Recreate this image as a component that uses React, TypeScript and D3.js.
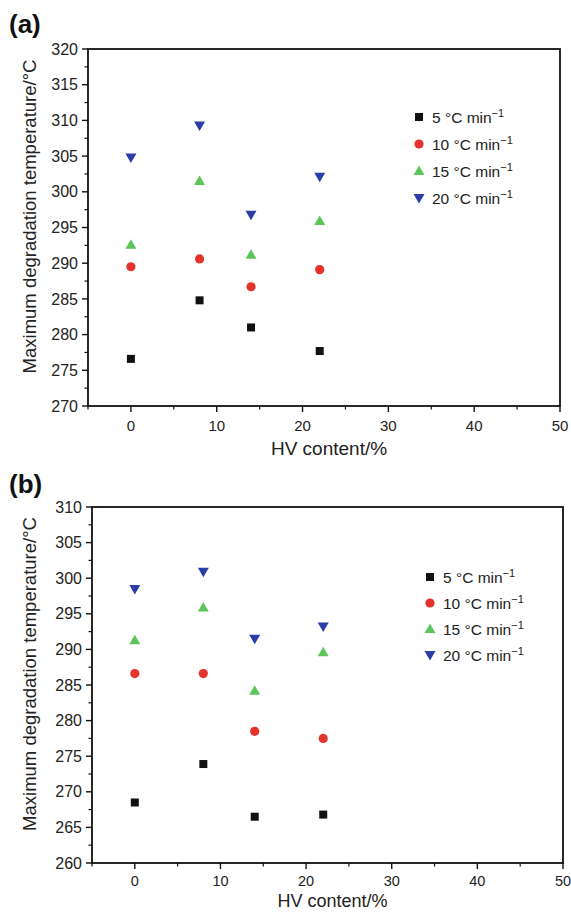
import React from "react";
import * as d3 from "d3";

// HV content (%) of each sample
const hvContent = [0, 8, 14, 22];

// Heating rates shown in each panel
const rates = ["5", "10", "15", "20"];

// Panel (a): maximum degradation temperature (°C) per heating rate
const panelA5 = [276.6, 284.8, 281.0, 277.7];
const panelA10 = [289.5, 290.6, 286.7, 289.1];
const panelA15 = [292.6, 301.5, 291.2, 295.9];
const panelA20 = [304.8, 309.3, 296.8, 302.1];

// Panel (b): maximum degradation temperature (°C) per heating rate
const panelB5 = [268.5, 273.9, 266.5, 266.8];
const panelB10 = [286.6, 286.6, 278.5, 277.5];
const panelB15 = [291.3, 295.9, 284.2, 289.6];
const panelB20 = [298.5, 300.9, 291.5, 293.2];

const xTicks = [0, 10, 20, 30, 40, 50];
const yTicksA = [270, 275, 280, 285, 290, 295, 300, 305, 310, 315, 320];
const yTicksB = [260, 265, 270, 275, 280, 285, 290, 295, 300, 305, 310];

const colors = ["#111111", "#e5322b", "#5cc55a", "#2b3da6"];
const shapes = ["square", "circle", "up", "down"];

const FONT = "'Liberation Sans', Arial, Helvetica, sans-serif";

function Marker({ shape, cx, cy, color }: { shape: string; cx: number; cy: number; color: string }) {
  if (shape === "square") {
    return <rect x={cx - 4} y={cy - 4} width={8} height={8} fill={color} />;
  }
  if (shape === "circle") {
    return <circle cx={cx} cy={cy} r={4.6} fill={color} />;
  }
  if (shape === "up") {
    return <path d={`M${cx},${cy - 5.5}L${cx + 5.5},${cy + 4}L${cx - 5.5},${cy + 4}Z`} fill={color} />;
  }
  return <path d={`M${cx},${cy + 5.5}L${cx + 5.5},${cy - 4}L${cx - 5.5},${cy - 4}Z`} fill={color} />;
}

type PanelProps = {
  label: string;
  labelY: number;
  series: number[][];
  yTicks: number[];
  left: number;
  right: number;
  top: number;
  bottom: number;
  xTickGap: number;
  xTickSize: number;
  xTitleGap: number;
  xTitleSize: number;
  legendX: number;
  legendY: number;
  legendStep: number;
};

function Panel({
  label,
  labelY,
  series,
  yTicks,
  left,
  right,
  top,
  bottom,
  xTickGap,
  xTickSize,
  xTitleGap,
  xTitleSize,
  legendX,
  legendY,
  legendStep,
}: PanelProps) {
  const x = d3.scaleLinear().domain([-5, 50]).range([left, right]);
  const yMin = yTicks[0];
  const yMax = yTicks[yTicks.length - 1];
  const y = d3.scaleLinear().domain([yMin, yMax]).range([bottom, top]);

  const xMinor = d3.range(-5, 50, 5).filter((v) => v % 10 !== 0);
  const yMinor = d3.range(yMin + 2.5, yMax, 5);

  return (
    <g fontFamily={FONT}>
      <text x={9} y={labelY} fontSize={26} fontWeight="bold" fill="#111">
        {label}
      </text>

      {/* frame */}
      <rect x={left} y={top} width={right - left} height={bottom - top} fill="none" stroke="#111" strokeWidth={1.8} />

      {/* y axis ticks */}
      {yTicks.map((t) => (
        <g key={`yt${t}`}>
          <line x1={left - 6} x2={left} y1={y(t)} y2={y(t)} stroke="#111" strokeWidth={1.4} />
          <text x={left - 10} y={y(t)} dy="0.35em" textAnchor="end" fontSize={16} fill="#222">
            {t}
          </text>
        </g>
      ))}
      {yMinor.map((t) => (
        <line key={`ym${t}`} x1={left - 3.5} x2={left} y1={y(t)} y2={y(t)} stroke="#111" strokeWidth={1.2} />
      ))}

      {/* x axis ticks */}
      {xTicks.map((t) => (
        <g key={`xt${t}`}>
          <line x1={x(t)} x2={x(t)} y1={bottom} y2={bottom + 6} stroke="#111" strokeWidth={1.4} />
          <text x={x(t)} y={bottom + xTickGap} textAnchor="middle" fontSize={xTickSize} fill="#222">
            {t}
          </text>
        </g>
      ))}
      {xMinor.map((t) => (
        <line key={`xm${t}`} x1={x(t)} x2={x(t)} y1={bottom} y2={bottom + 3.5} stroke="#111" strokeWidth={1.2} />
      ))}

      {/* axis titles */}
      <text
        x={(left + right) / 2 + 5}
        y={bottom + xTitleGap}
        textAnchor="middle"
        fontSize={xTitleSize}
        fill="#222"
      >
        HV content/%
      </text>
      <text
        transform={`translate(${36},${(top + bottom) / 2 - 11}) rotate(-90)`}
        textAnchor="middle"
        fontSize={18.5}
        fill="#222"
      >
        Maximum degradation temperature/°C
      </text>

      {/* data points */}
      {series.map((vals, si) =>
        vals.map((v, i) => (
          <Marker key={`p${si}-${i}`} shape={shapes[si]} cx={x(hvContent[i])} cy={y(v)} color={colors[si]} />
        ))
      )}

      {/* legend */}
      {rates.map((r, i) => (
        <g key={`lg${r}`}>
          <Marker shape={shapes[i]} cx={legendX} cy={legendY + i * legendStep} color={colors[i]} />
          <text x={legendX + 13} y={legendY + i * legendStep} dy="0.38em" fontSize={15.5} fill="#222">
            {r} °C min
            <tspan dy="-0.55em" fontSize={11}>
              −1
            </tspan>
          </text>
        </g>
      ))}
    </g>
  );
}

export default function App() {
  return (
    <svg width={571} height={914} style={{ display: "block", position: "absolute", left: 0, top: 0 }}>
      <rect width={571} height={914} fill="#fff" />
      <Panel
        label="(a)"
        labelY={33}
        series={[panelA5, panelA10, panelA15, panelA20]}
        yTicks={yTicksA}
        left={88}
        right={560}
        top={49}
        bottom={406}
        xTickGap={25}
        xTickSize={15}
        xTitleGap={49}
        xTitleSize={19}
        legendX={419}
        legendY={117}
        legendStep={27}
      />
      <Panel
        label="(b)"
        labelY={493}
        series={[panelB5, panelB10, panelB15, panelB20]}
        yTicks={yTicksB}
        left={92}
        right={563}
        top={507}
        bottom={863}
        xTickGap={23}
        xTickSize={14.5}
        xTitleGap={44}
        xTitleSize={18}
        legendX={430}
        legendY={577}
        legendStep={26}
      />
    </svg>
  );
}
